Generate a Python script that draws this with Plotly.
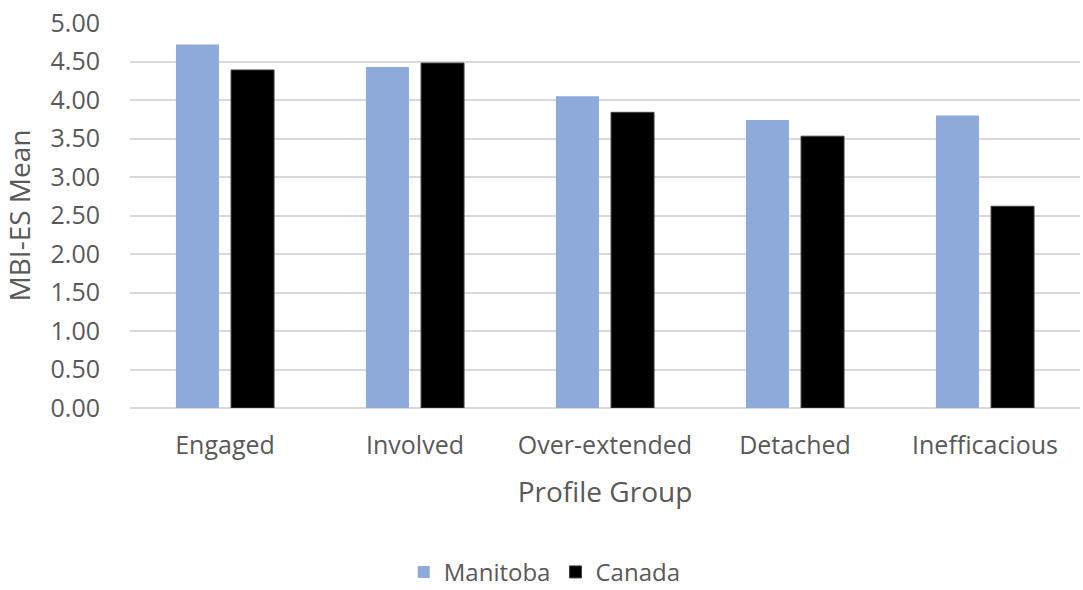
import plotly.graph_objects as go

categories = ["Engaged", "Involved", "Over-extended", "Detached", "Inefficacious"]
manitoba = [4.72, 4.43, 4.05, 3.74, 3.80]
canada = [4.39, 4.48, 3.84, 3.53, 2.62]
y_ticks = [0, 0.5, 1, 1.5, 2, 2.5, 3, 3.5, 4, 4.5, 5]
y_tick_labels = [f"{v:.2f}" for v in y_ticks]

FONT = "Open Sans"
GRAY = "#595959"

fig = go.Figure()
fig.add_bar(x=categories, y=manitoba, name="Manitoba",
            marker=dict(color="#8EAADB", line=dict(width=0)))
fig.add_bar(x=categories, y=canada, name="Canada",
            marker=dict(color="#000000", line=dict(color="#404040", width=1)))

fig.update_layout(
    width=1083, height=590,
    margin=dict(l=130, r=3, t=23, b=182),
    paper_bgcolor="white", plot_bgcolor="white",
    barmode="group", bargap=0.42, bargroupgap=0.22,
    font=dict(family=FONT, color=GRAY, size=25),
    legend=dict(orientation="h", x=0.503, xanchor="center", xref="container",
                y=0.03, yanchor="middle", yref="container",
                font=dict(size=24, color=GRAY), itemwidth=30, tracegroupgap=0),
    xaxis=dict(
        showgrid=False, showline=False, zeroline=False,
        ticks="outside", ticklen=15, tickcolor="rgba(0,0,0,0)",
        tickfont=dict(size=25, color=GRAY),
        title=dict(text="Profile Group", font=dict(size=28, color=GRAY), standoff=22),
    ),
    yaxis=dict(
        range=[0, 5], tickvals=y_ticks, ticktext=y_tick_labels,
        showgrid=True, gridcolor="#D9D9D9", gridwidth=1.5,
        zeroline=True, zerolinecolor="#D9D9D9", zerolinewidth=1.5,
        ticks="outside", ticklen=24, tickcolor="rgba(0,0,0,0)",
        tickfont=dict(size=25, color=GRAY),
        title=dict(text="MBI-ES Mean", font=dict(size=28, color=GRAY), standoff=12),
    ),
)

fig.write_html("out.html")
